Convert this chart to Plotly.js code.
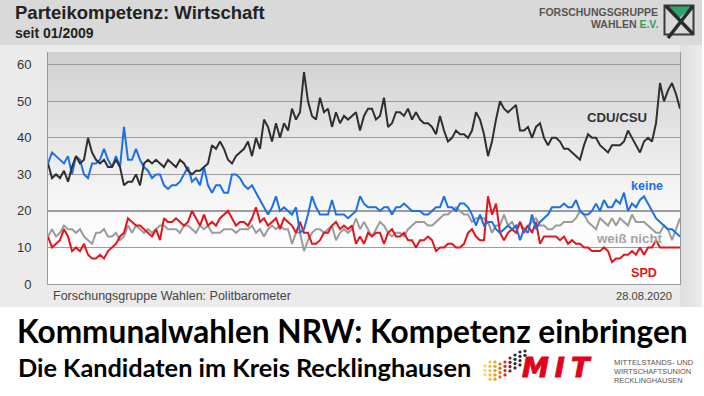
<!DOCTYPE html>
<html><head><meta charset="utf-8">
<script src="https://cdn.plot.ly/plotly-3.0.1.min.js"></script>
<style>
html,body{margin:0;padding:0;background:#fff;}
#wrap{position:relative;width:704px;height:396px;overflow:hidden;}
.bg{position:absolute;}
#chart{position:absolute;left:0;top:0;width:704px;height:396px;}
</style></head>
<body><div id="wrap">
<div class="bg" style="left:0;top:0;width:702px;height:307px;background:#ebebeb"></div>
<div class="bg" style="left:0;top:0;width:702px;height:45px;background:#d9d9d9"></div>
<div class="bg" style="left:680px;top:45px;width:22px;height:262px;background:linear-gradient(to right,#dedede,#ececec)"></div>
<div class="bg" style="left:48px;top:52px;width:632px;height:232px;background:linear-gradient(to bottom,#d0d0d0 0%,#e2e2e2 30%,#f1f1f1 55%,#fcfcfc 75%,#ffffff 100%)"></div>
<svg class="bg" style="left:0;top:0" width="704" height="396" id="deco"></svg>
<div id="chart"></div>
</div>
<script>
// ---- data (survey index, Politbarometer 01/2009 - 08/2020) ----
const cduCsu = [33,29,30,29,31,28,32,35,33,34,
 40,36,34,33,34,32,32,34,32,27,
 28,28,30,27,33,34,33,34,33,32,
 34,33,32,34,33,31,30,31,31,32,
 33,38,37,39,37,34,33,35,36,37,
 39,35,40,37,45,43,39,44,40,44,
 42,48,45,47,58,50,46,45,51,47,
 48,43,47,44,46,45,46,47,42,46,
 48,48,45,46,51,43,44,47,47,46,
 48,45,47,45,44,44,43,41,46,42,
 39,40,42,41,41,40,42,47,45,41,
 35,39,45,50,48,47,48,49,42,42,
 43,40,43,44,40,38,40,40,39,37,
 37,36,35,34,38,41,40,40,38,37,
 36,38,38,38,39,42,40,38,36,39,
 40,39,44,55,50,53,55,52,48];
const keine = [33,36,35,34,33,35,30,35,34,30,
 29,33,33,34,37,34,32,35,32,43,
 34,34,37,34,32,31,29,30,30,27,
 26,27,27,28,30,32,28,29,27,32,
 27,25,27,27,25,25,30,30,29,27,
 26,27,25,23,21,19,21,24,20,21,
 20,19,21,14,15,19,24,21,19,19,
 19,23,19,19,19,18,19,20,24,22,
 21,21,21,20,21,21,19,21,21,22,
 21,20,20,20,19,19,20,21,21,24,
 21,21,20,22,22,21,19,16,19,16,
 17,17,15,14,15,16,15,16,12,15,
 14,19,15,17,18,19,21,21,21,22,
 21,21,23,20,19,19,20,22,20,23,
 21,21,23,22,25,20,22,21,23,24,
 22,20,18,17,16,15,15,14,13];
const spd = [13,10,11,12,15,13,9,10,9,11,
 8,7,7,8,7,9,10,11,13,14,
 18,17,16,16,15,14,13,15,12,18,
 17,17,18,17,16,17,20,18,16,19,
 16,17,16,18,19,20,18,16,17,17,
 16,18,21,17,18,16,17,18,15,18,
 17,16,14,17,14,14,11,11,12,14,
 14,16,17,15,16,15,16,11,13,11,
 14,13,14,14,11,14,15,13,13,14,
 12,12,10,12,12,13,12,9,10,10,
 11,11,10,10,11,14,15,13,12,12,
 24,19,22,14,12,14,15,14,17,14,
 16,14,17,11,13,13,13,13,12,13,
 11,12,11,11,10,10,9,9,9,10,
 9,6,7,7,8,8,9,8,10,8,
 10,10,12,10,10,10,10,10,10];
const weissNicht = [13,15,13,14,16,15,15,14,15,13,
 12,11,14,14,15,13,13,14,12,13,
 16,14,16,15,14,15,14,15,16,16,
 15,15,15,14,16,16,15,14,16,15,
 16,14,14,14,15,15,15,14,15,15,
 15,16,14,15,13,15,16,15,16,15,
 15,11,14,14,9,12,14,15,15,14,
 15,16,12,14,15,14,15,18,15,17,
 15,13,15,17,16,14,13,14,14,13,
 15,16,17,17,17,16,16,17,18,19,
 19,20,21,20,19,19,17,18,18,18,
 17,14,16,16,19,16,17,15,17,15,
 16,17,18,16,16,15,15,16,16,17,
 17,17,18,20,19,17,16,15,18,17,
 16,18,16,18,17,16,19,17,17,17,
 16,15,14,14,16,15,12,15,18];
const yTicks = [0,10,20,30,40,50,60];
const seriesNames = ['weiß nicht','SPD','keine','CDU/CSU'];
const surveyIndex = cduCsu.map((_, i) => i);

// ---- decorations (logos) ----
const svgNS = 'http://www.w3.org/2000/svg';
const deco = document.getElementById('deco');
function el(tag, attrs){const e=document.createElementNS(svgNS,tag);for(const k in attrs)e.setAttribute(k,attrs[k]);deco.appendChild(e);return e;}
el('polygon',{points:'666,6 693,6 679.5,18',fill:'#2fa46a'});
el('rect',{x:664.5,y:5.5,width:29,height:29,fill:'none',stroke:'#3a3a3a','stroke-width':2});
el('line',{x1:666,y1:6,x2:693,y2:34,stroke:'#2b2b2b','stroke-width':3.5});
el('line',{x1:693,y1:6,x2:668,y2:38,stroke:'#2b2b2b','stroke-width':3.5});
const cols = [[485,366,378,'#f3d37a'],[490,362,380,'#eec040'],[495,362,380,'#f0a010'],[500,364,380,'#e86a10'],
              [505,362,378,'#dc2a18'],[510,358,374,'#7a2020'],[515,355,370,'#2a2a2a'],[520,352,365,'#2a2a2a'],[525,351,358,'#2a2a2a']];
cols.forEach(c=>{for(let y=c[1];y<=c[2];y+=4.3){el('circle',{cx:c[0],cy:y,r:1.6,fill:c[3]});}});

// ---- text sizing: fit each text to the width it has in the reference ----
const cv = document.createElement('canvas').getContext('2d');
function fit(text, family, weight, target){
  cv.font = weight+' 20px '+family;
  const w = cv.measureText(text).width;
  return Math.round(20*target/w*10)/10;
}

const PL = {l:48, t:52, w:632, h:232};
function ann(text, px, py, o){return Object.assign({text, xref:'paper', yref:'paper', x:(px-PL.l)/PL.w, y:(PL.t+PL.h-py)/PL.h,
  showarrow:false, xanchor:'left', yanchor:'middle', borderpad:0}, o||{});}
const F = 'Liberation Sans, Arial, sans-serif';
const FL = 'Lato, sans-serif';

function tx(label, px, py, width, family, weight, color, anchor, maxSize){
  let size = fit(label, family, weight, width);
  if (maxSize) size = Math.min(size, maxSize);
  const t = weight==='bold' ? '<b>'+label+'</b>' : label;
  return ann(t, px, py, {xanchor:anchor||'left', font:{family, size, color}});
}

const traces = [
  {x:surveyIndex, y:weissNicht, name:seriesNames[0], mode:'lines', line:{color:'#9b9b9b', width:2}},
  {x:surveyIndex, y:spd, name:seriesNames[1], mode:'lines', line:{color:'#e5141c', width:2}},
  {x:surveyIndex, y:keine, name:seriesNames[2], mode:'lines', line:{color:'#1e6fe3', width:2}},
  {x:surveyIndex, y:cduCsu, name:seriesNames[3], mode:'lines', line:{color:'#2f2f2f', width:2}}
];

const fgwSize = fit('FORSCHUNGSGRUPPE', F, 'bold', 119);
const layout = {
  width:704, height:396,
  margin:{l:PL.l, r:704-PL.l-PL.w, t:PL.t, b:396-PL.t-PL.h, pad:0},
  paper_bgcolor:'rgba(0,0,0,0)', plot_bgcolor:'rgba(0,0,0,0)',
  showlegend:false,
  font:{family:F, color:'#333'},
  xaxis:{range:[0, surveyIndex.length-1], showgrid:false, zeroline:false, showticklabels:false,
         showline:true, linecolor:'#a0a0a0', linewidth:1, ticks:''},
  yaxis:{range:[0,63.5], tickvals:yTicks, ticktext:yTicks.map(String), showgrid:true, gridcolor:'#9c9c9c', gridwidth:1.2,
         zeroline:false, showline:true, mirror:true, linecolor:'#9a9a9a', linewidth:1,
         ticks:'', ticklabelstandoff:13, tickfont:{family:F, size:13, color:'#333'}},
  annotations:[
    tx('Parteikompetenz: Wirtschaft', 14, 13, 266, F, 'bold', '#222', 'left', 18.5),
    tx('seit 01/2009', 14, 33, 93, F, 'bold', '#222', 'left', 14),
    ann('<b>FORSCHUNGSGRUPPE</b>', 659, 12.5, {xanchor:'right', font:{family:F, size:fgwSize, color:'#555'}}),
    ann('<b>WAHLEN <span style="color:#2e9e5b">E.V.</span></b>', 659, 24, {xanchor:'right', font:{family:F, size:fgwSize, color:'#555'}}),
    tx('CDU/CSU', 617, 117.5, 60, F, 'bold', '#333', 'center'),
    tx('keine', 647, 186, 32, F, 'bold', '#1e6fe3', 'center'),
    tx('weiß nicht', 629.5, 238, 65, F, 'bold', '#a3a3a3', 'center'),
    tx('SPD', 644, 272.5, 26, F, 'bold', '#e5141c', 'center'),
    tx('Forschungsgruppe Wahlen: Politbarometer', 52, 295.5, 238, F, 'normal', '#444'),
    tx('28.08.2020', 673, 295.5, 56, F, 'normal', '#444', 'right'),
    tx('Kommunalwahlen NRW: Kompetenz einbringen', 16, 331, 671, FL, 'bold', '#000'),
    tx('Die Kandidaten im Kreis Recklinghausen', 17, 366.5, 453, FL, 'bold', '#000'),
    ann('<b><i>MIT</i></b>', 530, 367.5, {font:{family:'DejaVu Sans, sans-serif', size:27, color:'#e3001b'}}),
    tx('MITTELSTANDS- UND', 613, 362.5, 79, F, 'normal', '#555'),
    tx('WIRTSCHAFTSUNION', 613, 371.5, 77, F, 'normal', '#555'),
    tx('RECKLINGHAUSEN', 613, 380.5, 69, F, 'normal', '#555')
  ]
};

Plotly.newPlot('chart', traces, layout, {staticPlot:true, displayModeBar:false}).then(()=>{
  document.querySelectorAll('.annotation-text').forEach(t=>{
    if(t.textContent==='MIT'){t.style.letterSpacing='6px'; t.style.stroke='#e3001b'; t.style.strokeWidth='1px';}
  });
});
</script>
</body></html>
